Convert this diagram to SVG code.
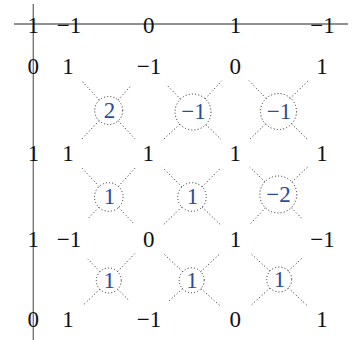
<svg xmlns="http://www.w3.org/2000/svg" width="352" height="340" viewBox="0 0 352 340">
<style>
.n{font-family:"Liberation Serif","Times New Roman",serif;font-size:23px;fill:#111;text-anchor:middle}
.b{font-family:"Liberation Serif","Times New Roman",serif;font-size:23px;fill:#2b4ca0;text-anchor:middle}
.c{fill:none;stroke:#222;stroke-width:1;stroke-dasharray:1 2.2}
.d{stroke:#222;stroke-width:1;stroke-dasharray:1 2.4;fill:none}
</style>
<g id="axes">
<line x1="14" y1="24" x2="348" y2="24" stroke="#222" stroke-width="1"/>
<line x1="33.3" y1="4" x2="33.3" y2="340" stroke="#777" stroke-width="1.4"/>
</g>
<g id="connectors">
<path class="d" d="M99.3,100.1L81.8,80.9M118,100.1L130.2,86.6M99.1,120.7L82,138.8M118.2,120.8L134.9,138.7"/>
<path class="d" d="M180.5,99.1L167.6,85.8M205.2,98.8L221.7,80.8M179.8,124.2L163.2,139.7M205.9,124.6L221,139.3"/>
<path class="d" d="M266.1,98.5L249.1,80.6M290,98.5L308.4,80.5M265.6,124L249.7,139.4M291.5,123.9L307.8,139.5"/>
<path class="d" d="M99.1,186.5L81.9,168M118.4,186.4L135.1,168.1M98.9,207.3L87.3,219.4M118.6,207.4L134.8,224.7"/>
<path class="d" d="M181.9,186.9L162.6,167.5M202.1,186.8L221.2,167.5M181.7,207L162.8,225.4M202.2,207L221,225.3"/>
<path class="d" d="M264.9,181.7L249.7,167.1M291.8,181.9L307.7,167M265.5,207.8L249.2,224.9M291.3,207.7L303,219.7"/>
<path class="d" d="M100,271.6L87.6,258.9M117.5,271.5L134.6,253.7M99.8,289.2L82.7,305.7M117.7,289.3L128.9,300.3"/>
<path class="d" d="M182.6,271.7L163,253.1M200.8,271.7L220.7,253M182.5,288.7L168.8,301.1M201,288.7L220.5,306.2"/>
<path class="d" d="M270,271.1L250,252.8M288.3,271L302.2,258.1M270,287.9L250.1,306.1M288.4,288L307.7,306"/>
</g>
<g id="row1">
<text id="t10" class="n" x="33.3" y="32.7">1</text>
<text id="t11" class="n" x="69" y="32.7">−1</text>
<text id="t12" class="n" x="148.7" y="32.7">0</text>
<text id="t13" class="n" x="235.4" y="32.7">1</text>
<text id="t14" class="n" x="322.5" y="32.7">−1</text>
</g>
<g id="row2">
<text id="t20" class="n" x="33.3" y="73.7">0</text>
<text id="t21" class="n" x="68" y="73.7">1</text>
<text id="t22" class="n" x="149" y="73.7">−1</text>
<text id="t23" class="n" x="235.3" y="73.7">0</text>
<text id="t24" class="n" x="322" y="73.7">1</text>
</g>
<g id="row3">
<text id="t30" class="n" x="33.5" y="160.9">1</text>
<text id="t31" class="n" x="68" y="160.9">1</text>
<text id="t32" class="n" x="148.3" y="160.9">1</text>
<text id="t33" class="n" x="235.3" y="160.9">1</text>
<text id="t34" class="n" x="322" y="160.9">1</text>
</g>
<g id="row4">
<text id="t40" class="n" x="33.3" y="246.9">1</text>
<text id="t41" class="n" x="69" y="246.9">−1</text>
<text id="t42" class="n" x="148.7" y="246.9">0</text>
<text id="t43" class="n" x="235.4" y="246.9">1</text>
<text id="t44" class="n" x="322.5" y="246.9">−1</text>
</g>
<g id="row5">
<text id="t50" class="n" x="33.3" y="327.2">0</text>
<text id="t51" class="n" x="68" y="327.2">1</text>
<text id="t52" class="n" x="149" y="327.2">−1</text>
<text id="t53" class="n" x="235.3" y="327.2">0</text>
<text id="t54" class="n" x="322" y="327.2">1</text>
</g>
<g id="c11"><circle class="c" cx="108.7" cy="110.5" r="14"/><text class="b" x="109.5" y="117.7">2</text></g>
<g id="c12"><circle class="c" cx="193" cy="112" r="18"/><text class="b" x="193.5" y="119">−1</text></g>
<g id="c13"><circle class="c" cx="278.5" cy="111.5" r="18"/><text class="b" x="279" y="118.7">−1</text></g>
<g id="c21"><circle class="c" cx="108.8" cy="197" r="14.3"/><text class="b" x="109.5" y="204.2">1</text></g>
<g id="c22"><circle class="c" cx="192" cy="197" r="14.3"/><text class="b" x="192.5" y="204.2">1</text></g>
<g id="c23"><circle class="c" cx="278.3" cy="194.5" r="18.5"/><text class="b" x="278.5" y="202.2">−2</text></g>
<g id="c31"><circle class="c" cx="108.8" cy="280.5" r="12.5"/><text class="b" x="109.2" y="288.2">1</text></g>
<g id="c32"><circle class="c" cx="191.7" cy="280.3" r="12.5"/><text class="b" x="192" y="288.2">1</text></g>
<g id="c33"><circle class="c" cx="279.2" cy="279.5" r="12.5"/><text class="b" x="279.5" y="287.2">1</text></g>
</svg>
